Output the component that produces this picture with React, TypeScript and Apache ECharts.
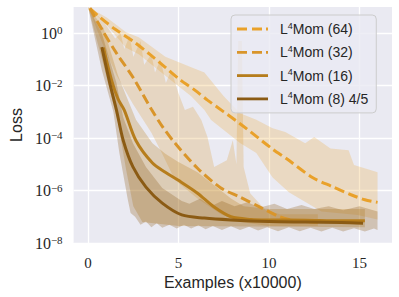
import React, { useEffect, useRef } from 'react';
import * as echarts from 'echarts';

// tick positions
const xTicks = [0, 5, 10, 15];
const yTickExps = [-8, -6, -4, -2, 0];

const seriesNames = ['L⁴Mom (64)', 'L⁴Mom (32)', 'L⁴Mom (16)', 'L⁴Mom (8) 4/5'];
const seriesColors = ['#E9A12A', '#D9952A', '#B67D1C', '#8B5B14'];
const seriesDashed = [true, true, false, false];

// mean curves: [examples (x10000), log10(loss)]
const mean64 = [[0.1, 0.95], [0.65, 0.61], [1.5, 0.15], [2.48, -0.3], [3.4, -0.8], [4.27, -1.3], [5.13, -1.8], [5.9, -2.17], [6.6, -2.55], [8.4, -3.45], [10.2, -4.42], [11.0, -4.8], [12.4, -5.5], [13.5, -5.85], [14.5, -6.15], [15.3, -6.35], [16.0, -6.45]];
const mean32 = [[0.1, 0.95], [0.8, 0.1], [1.57, -0.76], [2.48, -1.68], [3.5, -2.9], [4.1, -3.55], [4.8, -4.19], [6.05, -5.15], [7.34, -5.9], [8.4, -6.25], [9.5, -6.63], [10.6, -7.0], [11.5, -7.15], [12.7, -7.2]];
const mean16 = [[0.85, -0.55], [1.3, -1.8], [1.65, -2.5], [2.0, -2.93], [2.65, -4.1], [3.56, -4.95], [4.27, -5.3], [4.97, -5.6], [6.05, -6.1], [6.97, -6.63], [7.9, -7.0], [9.0, -7.1], [10, -7.12], [12, -7.13], [14, -7.15], [15.3, -7.15]];
const mean8 = [[0.76, -0.53], [1.2, -1.9], [1.57, -2.93], [1.94, -4.08], [2.48, -5.1], [3.2, -5.87], [4.1, -6.48], [5.18, -6.93], [6.43, -7.05], [7.9, -7.12], [10, -7.18], [12, -7.2], [14, -7.22], [15.2, -7.25]];

// band edges: [examples, log10(loss)]
const hi64 = [[0, 1.0], [1.03, 0.6], [2.1, 0.04], [2.8, -0.15], [4.27, -0.9], [5.7, -1.3], [6.43, -1.5], [7.5, -2.4], [8.4, -3.05], [9.3, -3.3], [10.2, -3.62], [10.9, -3.77], [12.0, -4.2], [12.5, -3.96], [13.4, -4.4], [14.4, -4.46], [14.7, -5.03], [15.6, -5.22], [16.0, -5.3]];
const lo64 = [[0, 1.0], [1.03, 0.3], [2.1, -0.55], [2.8, -0.8], [4.6, -1.8], [5.7, -2.4], [6.43, -2.93], [6.8, -3.31], [8.4, -4.19], [9.3, -4.57], [10.2, -5.5], [11.1, -6.06], [12.9, -6.8], [14.9, -6.93], [16.0, -7.1]];
const hi32 = [[0, 1.0], [0.8, 0.5], [1.5, -0.2], [1.8, 0.0], [2.0, -0.6], [2.3, -0.1], [2.5, -0.9], [2.9, -0.3], [3.1, -1.2], [3.5, -0.8], [3.7, -1.5], [4.0, -1.0], [4.3, -1.9], [4.6, -1.4], [5.0, -2.3], [5.35, -2.93], [5.8, -2.8], [6.26, -3.31], [6.6, -3.96], [6.97, -5.1], [7.67, -4.84], [8.0, -4.08], [8.2, -5.0], [8.3, -0.3], [8.5, -0.3], [8.6, -5.1], [8.96, -6.1], [9.8, -6.74], [10.6, -6.9], [12.7, -6.9]];
const lo32 = [[0, 1.0], [0.8, -0.4], [1.57, -1.6], [2.48, -2.7], [3.5, -3.8], [4.1, -4.6], [4.8, -5.6], [6.05, -6.3], [7.34, -6.9], [8.4, -7.2], [10, -7.35], [12.7, -7.35]];
const hi16 = [[0, 1.0], [0.85, 0.2], [1.65, -1.6], [2.0, -2.2], [2.65, -3.3], [3.56, -4.2], [4.27, -4.6], [4.97, -4.9], [6.05, -5.3], [6.97, -5.8], [7.9, -6.3], [8.6, -6.6], [10, -6.7], [15.3, -6.7]];
const lo16 = [[0, 1.0], [0.85, -1.2], [1.65, -3.4], [2.1, -5.2], [2.5, -6.6], [3.0, -7.2], [5.0, -7.35], [15.3, -7.4]];
const hi8 = [[0, 1.0], [0.76, 0.0], [1.57, -1.9], [1.94, -3.2], [2.48, -4.2], [3.2, -5.1], [4.1, -5.9], [5.18, -6.4], [5.6, -6.5], [6.2, -6.3], [6.8, -6.6], [7.4, -6.4], [8.1, -6.6], [8.8, -6.45], [9.5, -6.65], [10.3, -6.5], [11.0, -6.7], [11.8, -6.55], [12.5, -6.7], [13.3, -6.6], [14.1, -6.75], [15.0, -6.6], [16.0, -6.8]];
const lo8 = [[0, 1.0], [0.76, -1.4], [1.4, -3.0], [1.73, -4.57], [2.2, -6.36], [2.35, -6.86], [2.6, -7.0], [2.9, -7.3], [3.2, -7.18], [3.5, -7.4], [3.8, -7.25], [4.1, -7.42], [4.5, -7.3], [4.9, -7.45], [5.3, -7.3], [5.7, -7.45], [6.1, -7.32], [6.5, -7.48], [6.9, -7.35], [7.4, -7.5], [7.9, -7.36], [8.4, -7.5], [8.9, -7.38], [9.4, -7.52], [9.9, -7.4], [10.5, -7.55], [11.1, -7.4], [11.7, -7.55], [12.3, -7.42], [12.9, -7.56], [13.5, -7.42], [14.1, -7.56], [14.7, -7.44], [15.3, -7.56], [15.8, -7.45], [16.0, -7.5]];

const means = [mean64, mean32, mean16, mean8];
const bandHi = [hi64, hi32, hi16, hi8];
const bandLo = [lo64, lo32, lo16, lo8];

const toVal = (pts: number[][]) => pts.map(([x, e]) => [x, Math.pow(10, e)]);

const supMap: Record<string, string> = { '⁴': '4' };

// legend sample glyphs (31 px wide line samples)
const dashedIcon = 'path://M0 0h10v2.8h-10zM15 0h10v2.8h-10zM29 0h2v2.8h-2z';
const solidIcon = 'path://M0 0h31v2.8h-31z';

export default function App() {
  const ref = useRef<HTMLDivElement>(null);
  useEffect(() => {
    if (!ref.current) return;
    const chart = echarts.init(ref.current, undefined, { renderer: 'svg' });
    const sans = 'Liberation Sans';
    const serif = 'Liberation Serif';
    const textColor = '#262626';

    const bandSeries = bandHi.map((hi, i) => ({
      type: 'custom',
      name: 'band' + i,
      z: 1,
      silent: true,
      data: [[0, 1]],
      renderItem: (_p: any, api: any) => {
        const up = hi.map(([x, e]) => api.coord([x, Math.pow(10, e)]));
        const dn = bandLo[i].slice().reverse().map(([x, e]) => api.coord([x, Math.pow(10, e)]));
        return {
          type: 'polygon',
          shape: { points: up.concat(dn) },
          style: { fill: echarts.color.modifyAlpha(seriesColors[i], i >= 2 ? 0.28 : 0.24), stroke: 'none' },
        };
      },
    }));

    const lineSeries = means.map((m, i) => ({
      type: 'line',
      name: seriesNames[i],
      data: toVal(m),
      showSymbol: false,
      symbol: 'none',
      smooth: 0.3,
      z: 3,
      color: seriesColors[i],
      lineStyle: {
        color: seriesColors[i],
        width: 3,
        type: seriesDashed[i] ? [10, 4.5] : 'solid',
      },
    }));

    chart.setOption({
      animation: false,
      backgroundColor: '#ffffff',
      grid: { left: 66, right: 7, top: 7, bottom: 54, backgroundColor: '#EAEAF2', show: true, borderWidth: 0 },
      legend: {
        data: seriesNames.map((n, i) => ({ name: n, icon: seriesDashed[i] ? dashedIcon : solidIcon })),
        orient: 'vertical',
        left: 231,
        top: 15,
        padding: [6, 8, 6, 6],
        itemWidth: 31,
        itemHeight: 2.8,
        itemGap: 7.3,
        backgroundColor: 'rgba(234,234,242,0.8)',
        borderColor: '#CCCCCC',
        borderWidth: 1,
        borderRadius: 4,
        formatter: (name: string) => name.replace(/⁴/g, (c) => '{s|' + supMap[c] + '}'),
        textStyle: {
          fontFamily: sans,
          fontSize: 14,
          color: textColor,
          padding: [0, 0, 0, 7],
          lineHeight: 16,
          rich: {
            s: { fontFamily: sans, fontSize: 9, color: textColor, verticalAlign: 'top', lineHeight: 10 },
          },
        },
      },
      xAxis: {
        type: 'value',
        min: -0.8,
        max: 16.8,
        name: 'Examples (x10000)',
        nameLocation: 'middle',
        nameGap: 29,
        nameTextStyle: { fontFamily: sans, fontSize: 16, color: textColor },
        axisLine: { show: false },
        axisTick: { show: false, customValues: xTicks },
        axisLabel: { customValues: xTicks, fontFamily: serif, fontSize: 15, color: textColor, margin: 12 },
        splitLine: { show: true, lineStyle: { color: '#ffffff', width: 1.3 } },
      },
      yAxis: {
        type: 'log',
        logBase: 10,
        min: 1e-8,
        max: 10,
        name: 'Loss',
        nameLocation: 'middle',
        nameGap: 43,
        nameTextStyle: { fontFamily: sans, fontSize: 16, color: textColor },
        axisLine: { show: false },
        axisTick: { show: false, customValues: yTickExps.map((e) => Math.pow(10, e)) },
        axisLabel: {
          customValues: yTickExps.map((e) => Math.pow(10, e)),
          margin: 11,
          formatter: (v: number) => {
            const e = Math.round(Math.log10(v));
            return '{b|10}{s|' + (e < 0 ? '−' + -e : String(e)) + '}';
          },
          rich: {
            b: { fontFamily: serif, fontSize: 16, color: textColor, lineHeight: 17 },
            s: { fontFamily: serif, fontSize: 11, color: textColor, verticalAlign: 'top', lineHeight: 11 },
          },
        },
        splitLine: { show: true, lineStyle: { color: '#ffffff', width: 1.3 } },
      },
      series: [...bandSeries, ...lineSeries],
    });
    return () => chart.dispose();
  }, []);
  return <div ref={ref} style={{ width: 399, height: 297, position: 'absolute', left: 0, top: 0 }} />;
}
